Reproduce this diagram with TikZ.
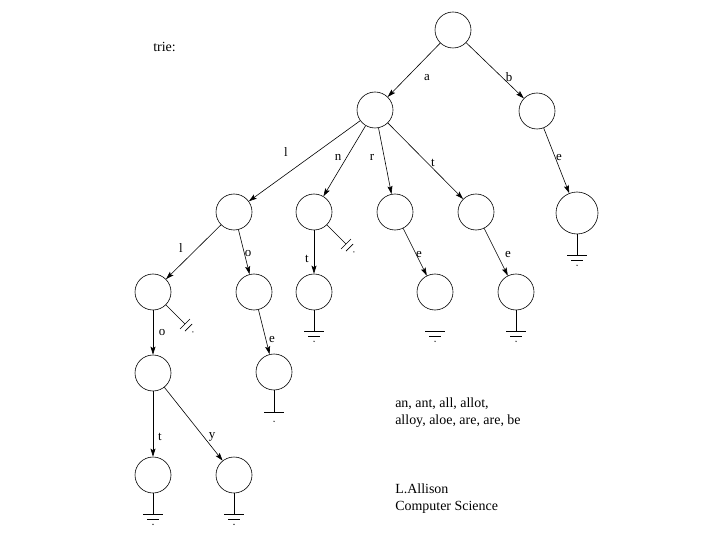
\documentclass[tikz,border=0pt]{standalone}
\usepackage{fontspec}
\setmainfont{Liberation Serif}
\usetikzlibrary{arrows.meta}
\tikzset{
every picture/.style={line width=0.6bp},
vertex/.style={draw, circle, minimum size=36bp, inner sep=0pt},
edge/.style={-{Stealth[length=8bp,width=5bp,inset=1.5bp]}},
lbl/.style={font=\fontsize{13}{15}\selectfont, inner sep=0pt},
txt/.style={font=\fontsize{14}{16.5}\selectfont, inner sep=0pt, align=left},
nil/.pic={
  \draw (0,0) -- (0,21) (-10,21) -- (10,21) (-6,26) -- (6,26);
  \fill (0,31) circle (0.7bp);
},
nilone/.pic={
  \draw (0,0) -- (0,22) (-10,22) -- (10,22);
  \fill (0,31) circle (0.7bp);
},
nilbars/.pic={
  \draw (-10,21) -- (10,21) (-6,26) -- (6,26);
  \fill (0,31) circle (0.7bp);
},
nilslant/.pic={
  \draw (0,0) -- (0,27) (-7,27) -- (7,27) (-5,32) -- (5,32);
  \fill (0,38) circle (0.7bp);
}
}

\begin{document}
\begin{tikzpicture}[x=1bp, y=-1bp]
  \useasboundingbox (0,0) rectangle (720,540);
  \foreach \n/\x/\y in {root/453/30, a/375/110, b/537/111,
      al/234/212, an/314/212, ar/395/212, at/476/212,
      all/153/292, alo/254/292, ant/314/292, are/435/292, ate/516/292,
      allo/153/373, aloe/274/372, allot/153/475, alloy/234/475} {
    \node[vertex] (\n) at (\x,\y) {};
  }
  \node[vertex, minimum size=42bp] (be) at (577,213) {};
  % edges, one letter each
  \foreach \p/\c/\l/\x/\y in {root/a/a/427/78, root/b/b/509/77,
      a/al/l/286/152, a/an/n/338/157, a/ar/r/372/157, a/at/t/433/163,
      b/be/e/559/158, al/all/l/181/248, al/alo/o/248/254,
      an/ant/t/307/259, ar/are/e/419/255, at/ate/e/508/255,
      all/allo/o/162/333, alo/aloe/e/272/340,
      allo/allot/t/160/437, allo/alloy/y/212/437} {
    \draw[edge] (\p) -- (\c);
    \node[lbl] (l-\c) at (\x,\y) {\l};
  }
  % end of word
  \foreach \n in {ant, ate, be, allot, alloy}
    \pic at (\n.south) {nil};
  \pic at (aloe.south) {nilone};
  \pic at (are.south) {nilbars};
  \pic[rotate=45] at (an.-45) {nilslant};
  \pic[rotate=45] at (all.-45) {nilslant};
  % texts
  \node[txt, anchor=base west] (title) at (153,52) {trie:};
  \node[txt, anchor=north west] (words) at (395,398)
    {an, ant, all, allot,\\alloy, aloe, are, are, be};
  \node[txt, anchor=north west] (who) at (395,484)
    {L.Allison\\Computer Science};
\end{tikzpicture}
\end{document}
